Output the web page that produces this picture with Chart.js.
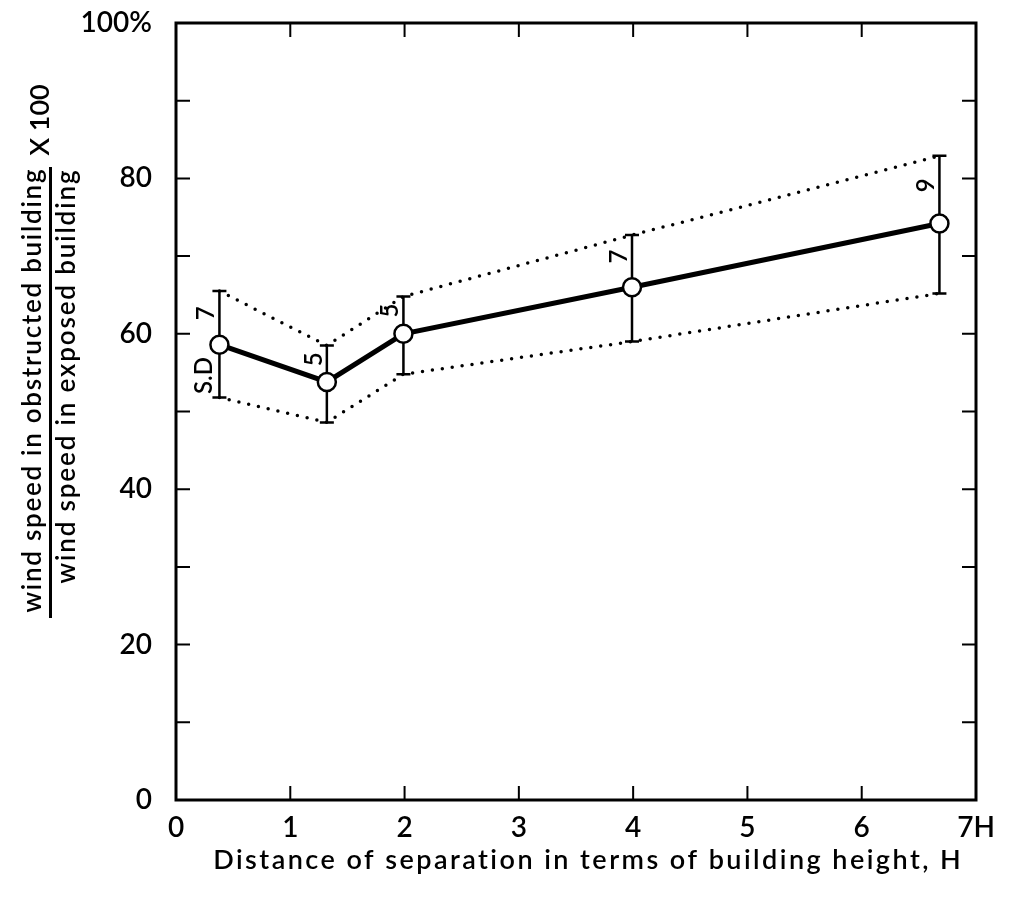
<!DOCTYPE html>
<html>
<head>
<meta charset="utf-8">
<script src="https://cdn.jsdelivr.net/npm/chart.js@4"></script>
<style>
  html, body { margin: 0; padding: 0; background: #fff; }
  #chartBox { width: 1023px; height: 905px; }
</style>
</head>
<body>
<div id="chartBox"><canvas id="graficaViento" width="1023" height="905"></canvas></div>
<script>
// datos
var sepH = [0.38, 1.32, 1.99, 3.99, 6.68];          // distancia en alturas de edificio
var ratioPct = [58.6, 53.8, 60.0, 66.0, 74.2];      // velocidad relativa (%)
var sdUpper = [65.5, 58.5, 64.8, 72.7, 82.9];       // media + S.D
var sdLower = [51.8, 48.6, 54.8, 59.0, 65.2];       // media - S.D
var sampleN = ['7', '5', '5', '7', '9'];            // numero de casos
var xTickLabels = ['0', '1', '2', '3', '4', '5', '6', '7H'];
var yTickLabels = ['0', '20', '40', '60', '80', '100%'];

var FONT = 'Lato, "Open Sans", sans-serif';
var PESO = '600';

function puntos(ys) {
    return sepH.map(function (x, i) { return { x: x, y: ys[i] }; });
}

// texto ajustado a un ancho con letterSpacing
function textoAncho(ctx, txt, x, y, ancho) {
    ctx.letterSpacing = '0px';
    var w = ctx.measureText(txt).width;
    var esp = (ancho - w) / (txt.length - 1);
    ctx.letterSpacing = esp.toFixed(2) + 'px';
    ctx.fillText(txt, x + esp / 2, y);
    ctx.letterSpacing = '0px';
}

// marco con marcas hacia dentro, barras de error y textos
var extras = {
    id: 'extras',
    beforeDatasetsDraw: function (chart) {
        var ctx = chart.ctx, xs = chart.scales.x, ys = chart.scales.y;
        ctx.save();
        ctx.strokeStyle = '#000';
        ctx.lineWidth = 2.5;
        sepH.forEach(function (v, i) {
            var px = xs.getPixelForValue(v);
            var top = ys.getPixelForValue(sdUpper[i]);
            var bot = ys.getPixelForValue(sdLower[i]);
            ctx.beginPath();
            ctx.moveTo(px, top); ctx.lineTo(px, bot);
            ctx.moveTo(px - 7, top); ctx.lineTo(px + 7, top);
            ctx.moveTo(px - 7, bot); ctx.lineTo(px + 7, bot);
            ctx.stroke();
        });
        ctx.restore();
    },
    afterDraw: function (chart) {
        var ctx = chart.ctx, a = chart.chartArea;
        var xs = chart.scales.x, ys = chart.scales.y;
        ctx.save();
        ctx.strokeStyle = '#000';
        ctx.lineWidth = 3;
        ctx.strokeRect(a.left, a.top, a.right - a.left, a.bottom - a.top);

        ctx.lineWidth = 2;
        ctx.beginPath();
        for (var xv = 1; xv < 7; xv++) {
            var px = xs.getPixelForValue(xv);
            ctx.moveTo(px, a.bottom); ctx.lineTo(px, a.bottom - 14);
            ctx.moveTo(px, a.top); ctx.lineTo(px, a.top + 14);
        }
        for (var yv = 10; yv < 100; yv += 10) {
            var py = ys.getPixelForValue(yv);
            ctx.moveTo(a.left, py); ctx.lineTo(a.left + 14, py);
            ctx.moveTo(a.right, py); ctx.lineTo(a.right - 14, py);
        }
        ctx.stroke();

        // numero de casos y S.D (girados)
        ctx.fillStyle = '#000';
        ctx.textAlign = 'center';
        ctx.textBaseline = 'middle';
        ctx.font = PESO + ' 24px ' + FONT;
        sepH.forEach(function (v, i) {
            var px = xs.getPixelForValue(v) - 13;
            var yTop = ys.getPixelForValue(sdUpper[i]);
            var yPt = ys.getPixelForValue(ratioPct[i]) - 9;
            ctx.save();
            ctx.translate(px, (yTop + yPt) / 2);
            ctx.rotate(-Math.PI / 2);
            ctx.fillText(sampleN[i], 0, 0);
            ctx.restore();
        });
        var sdX = xs.getPixelForValue(sepH[0]) - 15;
        var sdY = (ys.getPixelForValue(ratioPct[0]) + 9 + ys.getPixelForValue(sdLower[0])) / 2;
        ctx.save();
        ctx.translate(sdX, sdY);
        ctx.rotate(-Math.PI / 2);
        ctx.fillText('S.D', 0, 0);
        ctx.restore();

        // titulo eje x
        ctx.font = PESO + ' 27px ' + FONT;
        textoAncho(ctx, 'Distance of separation in terms of building height, H', 587, 860, 748);

        // titulo eje y (fraccion)
        ctx.save();
        ctx.rotate(-Math.PI / 2);
        ctx.font = PESO + ' 26px ' + FONT;
        textoAncho(ctx, 'wind speed in obstructed building', -391, 33, 443);
        textoAncho(ctx, 'wind speed in exposed building', -377, 67, 413);
        ctx.font = PESO + ' 27px ' + FONT;
        ctx.fillText('X 100', -120, 40);
        ctx.fillRect(-618, 49, 451, 3);
        ctx.restore();
        ctx.restore();
    }
};

var ctx = document.getElementById('graficaViento').getContext('2d');
var graficaViento = new Chart(ctx, {
    type: 'scatter',
    data: {
        datasets: [{
            label: 'media',
            data: puntos(ratioPct),
            showLine: true,
            borderColor: '#000',
            borderWidth: 5,
            pointRadius: 9,
            pointBackgroundColor: '#fff',
            pointBorderColor: '#000',
            pointBorderWidth: 2.5
        }, {
            label: 'S.D sup',
            data: puntos(sdUpper),
            showLine: true,
            borderColor: '#000',
            borderWidth: 3.5,
            borderDash: [0, 10],
            borderCapStyle: 'round',
            pointRadius: 0
        }, {
            label: 'S.D inf',
            data: puntos(sdLower),
            showLine: true,
            borderColor: '#000',
            borderWidth: 3.5,
            borderDash: [0, 10],
            borderCapStyle: 'round',
            pointRadius: 0
        }]
    },
    options: {
        responsive: false,
        animation: false,
        devicePixelRatio: 1,
        layout: { padding: { left: 0, top: 23, right: 47, bottom: 0 } },
        plugins: { legend: { display: false }, tooltip: { enabled: false } },
        scales: {
            x: {
                type: 'linear', min: 0, max: 7,
                grid: { display: false, drawTicks: false },
                border: { display: false },
                afterFit: function (s) { s.height = 105; s.paddingLeft = 0; s.paddingRight = 0; },
                ticks: {
                    stepSize: 1, padding: 11, color: '#000',
                    font: { family: FONT, size: 28, weight: PESO },
                    callback: function (v) { return xTickLabels[v]; }
                }
            },
            y: {
                type: 'linear', min: 0, max: 100,
                grid: { display: false, drawTicks: false },
                border: { display: false },
                afterFit: function (s) { s.width = 176; s.paddingTop = 0; s.paddingBottom = 0; },
                ticks: {
                    stepSize: 10, padding: 24, color: '#000',
                    font: { family: FONT, size: 28, weight: PESO },
                    callback: function (v) { return v % 20 === 0 ? yTickLabels[v / 20] : ''; }
                }
            }
        }
    },
    plugins: [extras]
});
</script>
</body>
</html>
